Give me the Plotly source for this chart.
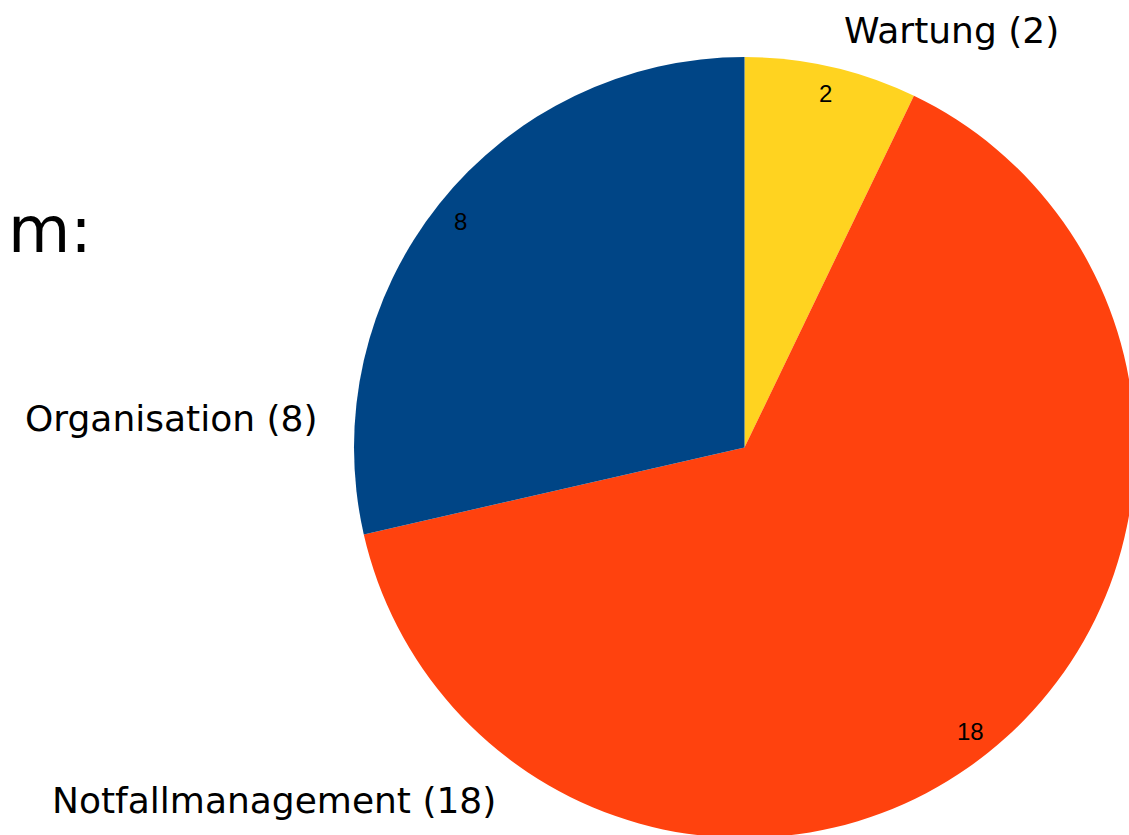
import math
import plotly.graph_objects as go

# ---- data ----
categories = ["Wartung", "Notfallmanagement", "Organisation"]
values = [2, 18, 8]
colors = ["#FFD320", "#FF420E", "#004586"]
side_text = "m:"

# ---- layout geometry (pixels) ----
FIG_W, FIG_H = 1140, 840
ML, MT = 354, 57
PW = PH = 781
MR = FIG_W - ML - PW
MB = FIG_H - MT - PH
CX, CY = ML + PW / 2, MT + PH / 2
R = PW / 2

# outside label centers (pixels)
outer_pos = [(951, 31), (274, 800), (171, 418)]


def px2paper(x, y):
    return (x - ML) / PW, 1 - (y - MT) / PH


fig = go.Figure(
    go.Pie(
        labels=categories,
        values=values,
        marker=dict(colors=colors, line=dict(width=0)),
        sort=False,
        direction="clockwise",
        rotation=0,
        textinfo="none",
        hoverinfo="label+value",
        domain=dict(x=[0, 1], y=[0, 1]),
    )
)

annotations = []
total = sum(values)
cum = 0
for cat, v, (ox, oy) in zip(categories, values, outer_pos):
    mid = (cum + v / 2) / total * 2 * math.pi
    cum += v
    ix = CX + 0.93 * R * math.sin(mid)
    iy = CY - 0.93 * R * math.cos(mid)
    px, py = px2paper(ix, iy)
    annotations.append(dict(
        x=px, y=py, xref="paper", yref="paper", text=str(v), showarrow=False,
        xanchor="center", yanchor="middle",
        font=dict(family="Liberation Sans, Arial, sans-serif", size=24, color="#000000"),
    ))
    qx, qy = px2paper(ox, oy)
    annotations.append(dict(
        x=qx, y=qy, xref="paper", yref="paper", text=f"{cat} ({v})", showarrow=False,
        xanchor="center", yanchor="middle",
        font=dict(family="DejaVu Sans, sans-serif", size=36, color="#000000"),
    ))

mx, my = px2paper(6, 230)
annotations.append(dict(
    x=mx, y=my, xref="paper", yref="paper", text=side_text, showarrow=False,
    xanchor="left", yanchor="middle",
    font=dict(family="DejaVu Sans, sans-serif", size=64, color="#000000"),
))

fig.update_layout(
    width=FIG_W, height=FIG_H,
    margin=dict(l=ML, r=MR, t=MT, b=MB, autoexpand=False),
    paper_bgcolor="#FFFFFF",
    plot_bgcolor="#FFFFFF",
    showlegend=False,
    annotations=annotations,
)

fig.write_html(
    "out.html",
    config={"displayModeBar": False},
    post_script="document.body.style.margin='0';document.documentElement.style.overflow='hidden';document.body.style.overflow='hidden';",
)
